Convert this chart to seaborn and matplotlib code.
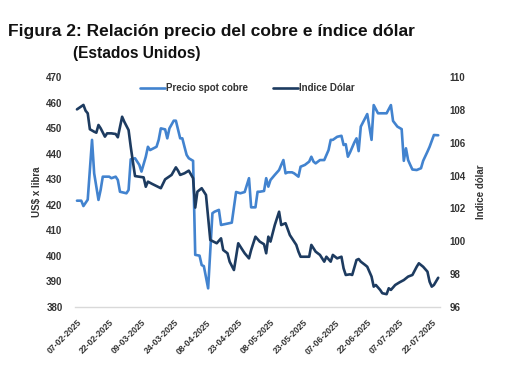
import matplotlib
matplotlib.use("Agg")
import matplotlib.pyplot as plt
import seaborn as sns
import pandas as pd

# ---------------- data ----------------
cobre_fechas = [
    "2025-02-07", "2025-02-09", "2025-02-10", "2025-02-12", "2025-02-14", "2025-02-15",
    "2025-02-17", "2025-02-18", "2025-02-19", "2025-02-22", "2025-02-23", "2025-02-25",
    "2025-02-26", "2025-02-27", "2025-03-02", "2025-03-03", "2025-03-04", "2025-03-06",
    "2025-03-08", "2025-03-09", "2025-03-11", "2025-03-12", "2025-03-13", "2025-03-16",
    "2025-03-17", "2025-03-18", "2025-03-20", "2025-03-21", "2025-03-22", "2025-03-24",
    "2025-03-25", "2025-03-27", "2025-03-28", "2025-03-29", "2025-03-30", "2025-03-31",
    "2025-04-02", "2025-04-03", "2025-04-05", "2025-04-06", "2025-04-07", "2025-04-09",
    "2025-04-11", "2025-04-12", "2025-04-14", "2025-04-15", "2025-04-20", "2025-04-22",
    "2025-04-24", "2025-04-26", "2025-04-28", "2025-04-29", "2025-05-01", "2025-05-02",
    "2025-05-03", "2025-05-05", "2025-05-06", "2025-05-07", "2025-05-08", "2025-05-10",
    "2025-05-12", "2025-05-13", "2025-05-14", "2025-05-15", "2025-05-16", "2025-05-18",
    "2025-05-19", "2025-05-21", "2025-05-22", "2025-05-24", "2025-05-26", "2025-05-27",
    "2025-05-28", "2025-05-29", "2025-05-31", "2025-06-02", "2025-06-04", "2025-06-05",
    "2025-06-06", "2025-06-08", "2025-06-10", "2025-06-11", "2025-06-12", "2025-06-13",
    "2025-06-14", "2025-06-16", "2025-06-17", "2025-06-18", "2025-06-19", "2025-06-22",
    "2025-06-24", "2025-06-25", "2025-06-27", "2025-07-01", "2025-07-03", "2025-07-04",
    "2025-07-06", "2025-07-08", "2025-07-09", "2025-07-10", "2025-07-11", "2025-07-12",
    "2025-07-13", "2025-07-15", "2025-07-17", "2025-07-18", "2025-07-20", "2025-07-21",
    "2025-07-23", "2025-07-25",
]
cobre_valores = [
    421.6, 421.6, 419.5, 422.0, 445.4, 432.3,
    421.9, 425.8, 431.0, 431.0, 430.4, 431.0,
    429.7, 425.1, 424.5, 425.8, 437.8, 438.2,
    435.6, 433.0, 438.8, 442.7, 441.4, 442.7,
    445.4, 449.9, 449.5, 446.0, 449.9, 452.9,
    452.9, 446.0, 446.0, 442.7, 439.5, 438.2,
    437.2, 400.4, 400.1, 396.4, 396.0, 387.3,
    416.7, 417.3, 418.0, 412.1, 413.0, 425.0,
    424.5, 425.0, 430.4, 419.0, 419.0, 425.1,
    425.1, 425.4, 430.4, 427.1, 429.7, 431.7,
    433.6, 435.6, 437.5, 432.3, 432.7, 432.7,
    432.3, 431.0, 434.9, 435.6, 436.9, 438.8,
    436.9, 436.2, 437.5, 437.5, 441.4, 445.4,
    445.4, 446.6, 447.0, 443.4, 443.7, 438.8,
    440.5, 444.4, 446.0, 441.0, 450.6, 455.5,
    445.4, 459.0, 455.8, 455.8, 459.0, 452.8,
    450.6, 449.6, 437.2, 442.1, 437.5, 435.6,
    433.8, 433.6, 434.3, 437.2, 440.8, 442.7,
    447.3, 447.2,
]

dolar_fechas = [
    "2025-02-07", "2025-02-10", "2025-02-11", "2025-02-12", "2025-02-13", "2025-02-15",
    "2025-02-16", "2025-02-17", "2025-02-18", "2025-02-20", "2025-02-21", "2025-02-23",
    "2025-02-25", "2025-02-26", "2025-02-28", "2025-03-01", "2025-03-03", "2025-03-04",
    "2025-03-05", "2025-03-06", "2025-03-08", "2025-03-10", "2025-03-11", "2025-03-12",
    "2025-03-14", "2025-03-18", "2025-03-20", "2025-03-23", "2025-03-25", "2025-03-26",
    "2025-03-27", "2025-03-29", "2025-03-31", "2025-04-02", "2025-04-03", "2025-04-04",
    "2025-04-06", "2025-04-08", "2025-04-10", "2025-04-13", "2025-04-15", "2025-04-16",
    "2025-04-18", "2025-04-19", "2025-04-21", "2025-04-22", "2025-04-23", "2025-04-25",
    "2025-04-26", "2025-04-28", "2025-04-29", "2025-05-01", "2025-05-03", "2025-05-05",
    "2025-05-06", "2025-05-07", "2025-05-08", "2025-05-10", "2025-05-12", "2025-05-13",
    "2025-05-15", "2025-05-17", "2025-05-19", "2025-05-20", "2025-05-21", "2025-05-22",
    "2025-05-26", "2025-05-27", "2025-05-29", "2025-05-31", "2025-06-02", "2025-06-03",
    "2025-06-05", "2025-06-06", "2025-06-08", "2025-06-10", "2025-06-11", "2025-06-12",
    "2025-06-14", "2025-06-15", "2025-06-17", "2025-06-18", "2025-06-19", "2025-06-21",
    "2025-06-22", "2025-06-24", "2025-06-25", "2025-06-26", "2025-06-28", "2025-06-29",
    "2025-07-01", "2025-07-02", "2025-07-03", "2025-07-05", "2025-07-07", "2025-07-09",
    "2025-07-11", "2025-07-13", "2025-07-15", "2025-07-16", "2025-07-18", "2025-07-20",
    "2025-07-21", "2025-07-22", "2025-07-23", "2025-07-25",
]
dolar_valores = [
    108.03, 108.30, 107.95, 107.79, 106.82, 106.67,
    106.61, 107.08, 106.88, 106.37, 106.57, 106.57,
    106.53, 106.33, 107.58, 107.28, 106.77, 105.76,
    104.85, 103.97, 103.93, 103.89, 103.32, 103.63,
    103.49, 103.23, 103.77, 104.04, 104.50, 104.30,
    104.04, 104.14, 104.30, 103.84, 102.05, 103.02,
    103.23, 102.82, 100.08, 99.88, 100.18, 99.47,
    99.27, 98.76, 98.25, 99.06, 99.88, 99.47,
    99.27, 98.96, 99.47, 100.28, 99.98, 99.82,
    99.27, 100.28, 99.98, 100.99, 101.80, 100.99,
    101.10, 100.38, 99.98, 99.78, 99.37, 99.06,
    99.06, 99.78, 99.37, 99.17, 98.76, 99.06,
    98.76, 99.17, 98.96, 99.06, 98.35, 97.95,
    97.99, 97.95, 98.86, 98.92, 98.76, 98.56,
    98.45, 97.85, 97.24, 97.34, 97.04, 96.84,
    96.78, 97.14, 97.04, 97.34, 97.50, 97.64,
    97.85, 97.95, 98.45, 98.66, 98.45, 98.15,
    97.54, 97.24, 97.34, 97.78,
]

tick_fechas = [
    "2025-02-07", "2025-02-22", "2025-03-09", "2025-03-24", "2025-04-08", "2025-04-23",
    "2025-05-08", "2025-05-23", "2025-06-07", "2025-06-22", "2025-07-07", "2025-07-22",
]
tick_etiquetas = [
    "07-02-2025", "22-02-2025", "09-03-2025", "24-03-2025", "08-04-2025", "23-04-2025",
    "08-05-2025", "23-05-2025", "07-06-2025", "22-06-2025", "07-07-2025", "22-07-2025",
]
ticks_cobre = [380, 390, 400, 410, 420, 430, 440, 450, 460, 470]
ticks_dolar = [96, 98, 100, 102, 104, 106, 108, 110]

serie_cobre = "Precio spot cobre"
serie_dolar = "Indice Dólar"
titulo = "Figura 2: Relación precio del cobre e índice dólar"
subtitulo = "(Estados Unidos)"
eje_izq = "US$ x libra"
eje_der = "Indice dólar"

# ---------------- style ----------------
sns.set_theme(style="white")
plt.rcParams["font.family"] = ["Liberation Sans", "DejaVu Sans"]

COL_COBRE = "#4283cf"
COL_DOLAR = "#1d3b60"
TXT = "#333333"

df_cobre = pd.DataFrame({"fecha": pd.to_datetime(cobre_fechas), "valor": cobre_valores})
df_dolar = pd.DataFrame({"fecha": pd.to_datetime(dolar_fechas), "valor": dolar_valores})

fig = plt.figure(figsize=(5.10, 3.82), dpi=100)
ax = fig.add_axes([75 / 510, 1 - 307 / 382, 365 / 510, 230 / 382])
ax2 = ax.twinx()

sns.lineplot(data=df_cobre, x="fecha", y="valor", ax=ax, color=COL_COBRE,
             linewidth=1.9, label=serie_cobre, legend=False)
sns.lineplot(data=df_dolar, x="fecha", y="valor", ax=ax2, color=COL_DOLAR,
             linewidth=1.9, label=serie_dolar, legend=False)

ax.set_xlim(pd.Timestamp("2025-02-06 02:00"), pd.Timestamp("2025-07-25 20:00"))
ax.set_ylim(380, 470)
ax2.set_ylim(96, 110)
ax.set_yticks(ticks_cobre)
ax2.set_yticks(ticks_dolar)
ax.set_yticklabels([str(v) for v in ticks_cobre], fontsize=7, fontweight="bold", color=TXT)
ax2.set_yticklabels([str(v) for v in ticks_dolar], fontsize=7, fontweight="bold", color=TXT)
ax.set_xticks(pd.to_datetime(tick_fechas))
ax.set_xticklabels(tick_etiquetas, rotation=45, ha="right", rotation_mode="anchor",
                   fontsize=6.2, fontweight="bold", color=TXT)

ax.set_xlabel("")
ax.set_ylabel(eje_izq, fontsize=7, fontweight="bold", color=TXT, labelpad=3)
ax2.set_ylabel(eje_der, fontsize=7, fontweight="bold", color=TXT, labelpad=7, rotation=90)

ax.tick_params(axis="y", length=0, pad=9)
ax2.tick_params(axis="y", length=0, pad=7)
ax.tick_params(axis="x", length=0, pad=8)
ax.grid(False)
ax2.grid(False)
for a in (ax, ax2):
    for s in ("left", "right", "top"):
        a.spines[s].set_visible(False)
ax.spines["bottom"].set_color("#d9d9d9")
ax.spines["bottom"].set_linewidth(1.0)
ax2.spines["bottom"].set_visible(False)

h1, l1 = ax.get_legend_handles_labels()
h2, l2 = ax2.get_legend_handles_labels()
leg = fig.legend(h1 + h2, l1 + l2, loc="center", bbox_to_anchor=(0.485, 1 - 88 / 382),
                 ncol=2, frameon=False, fontsize=7, handlelength=2.6,
                 handletextpad=0.1, columnspacing=2.6)
for t in leg.get_texts():
    t.set_fontweight("bold")
    t.set_color(TXT)

fig.text(8 / 510, 1 - 36 / 382, titulo, fontsize=12.5, fontweight="bold",
         color="#111111", ha="left", va="baseline")
fig.text(73 / 510, 1 - 58 / 382, subtitulo, fontsize=11.2, fontweight="bold",
         color="#111111", ha="left", va="baseline")

fig.savefig("out.png", dpi=100)
